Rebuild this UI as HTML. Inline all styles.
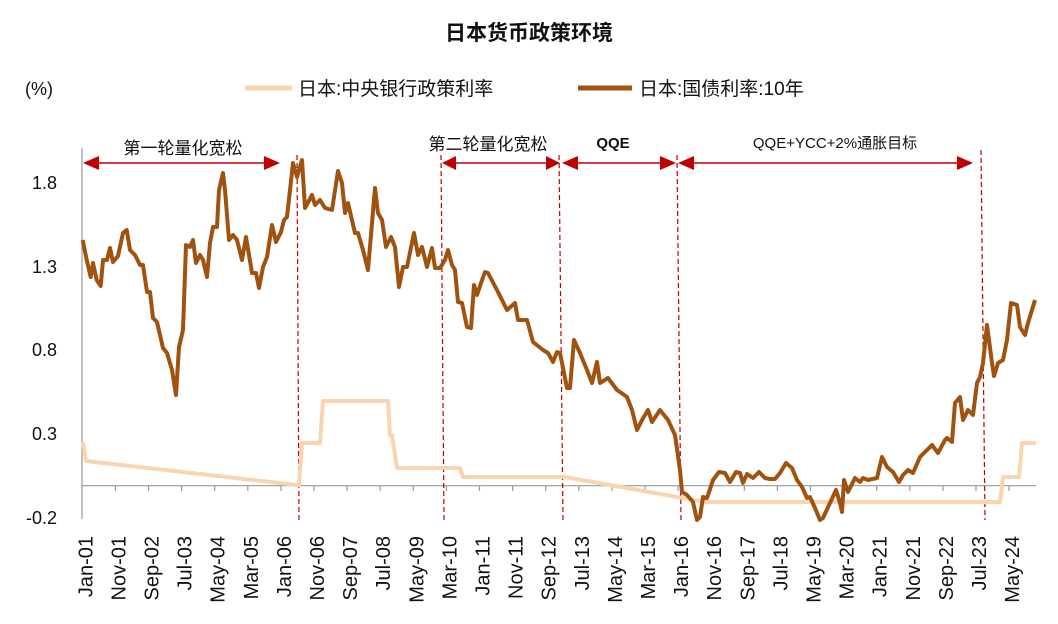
<!DOCTYPE html>
<html><head><meta charset="utf-8"><style>
body{margin:0;background:#fff;}
svg{display:block;font-family:"Liberation Sans","Noto Sans CJK SC",sans-serif;}
</style></head><body>
<svg width="1058" height="624" viewBox="0 0 1058 624" xmlns="http://www.w3.org/2000/svg">
<text x="529" y="40" font-size="21" font-weight="bold" text-anchor="middle" fill="#111">日本货币政策环境</text>
<text x="25" y="95" font-size="18" fill="#111">(%)</text>
<line x1="245" y1="88" x2="292" y2="88" stroke="#FAD4B0" stroke-width="5"/>
<text x="298" y="95" font-size="19" fill="#111">日本:中央银行政策利率</text>
<line x1="578" y1="88" x2="632" y2="88" stroke="#A0520F" stroke-width="5"/>
<text x="639" y="95" font-size="19" fill="#111">日本:国债利率:10年</text>
<g font-size="18" fill="#111" text-anchor="end">
<text x="57" y="189">1.8</text><text x="57" y="273">1.3</text><text x="57" y="356">0.8</text><text x="57" y="440">0.3</text><text x="57" y="524">-0.2</text>
</g>
<line x1="82" y1="148" x2="82" y2="519" stroke="#999" stroke-width="1.2"/>
<line x1="82" y1="485.7" x2="1036" y2="485.7" stroke="#999" stroke-width="1.2"/>
<g stroke="#999" stroke-width="1.2">
<line x1="115.4" y1="485.7" x2="115.4" y2="491"/><line x1="148.5" y1="485.7" x2="148.5" y2="491"/><line x1="181.6" y1="485.7" x2="181.6" y2="491"/><line x1="214.7" y1="485.7" x2="214.7" y2="491"/><line x1="247.8" y1="485.7" x2="247.8" y2="491"/><line x1="280.9" y1="485.7" x2="280.9" y2="491"/><line x1="314" y1="485.7" x2="314" y2="491"/><line x1="347.1" y1="485.7" x2="347.1" y2="491"/><line x1="380.2" y1="485.7" x2="380.2" y2="491"/><line x1="413.3" y1="485.7" x2="413.3" y2="491"/><line x1="446.4" y1="485.7" x2="446.4" y2="491"/><line x1="479.5" y1="485.7" x2="479.5" y2="491"/><line x1="512.6" y1="485.7" x2="512.6" y2="491"/><line x1="545.7" y1="485.7" x2="545.7" y2="491"/><line x1="578.8" y1="485.7" x2="578.8" y2="491"/><line x1="611.9" y1="485.7" x2="611.9" y2="491"/><line x1="645" y1="485.7" x2="645" y2="491"/><line x1="678.1" y1="485.7" x2="678.1" y2="491"/><line x1="711.2" y1="485.7" x2="711.2" y2="491"/><line x1="744.3" y1="485.7" x2="744.3" y2="491"/><line x1="777.4" y1="485.7" x2="777.4" y2="491"/><line x1="810.5" y1="485.7" x2="810.5" y2="491"/><line x1="843.6" y1="485.7" x2="843.6" y2="491"/><line x1="876.7" y1="485.7" x2="876.7" y2="491"/><line x1="909.8" y1="485.7" x2="909.8" y2="491"/><line x1="942.9" y1="485.7" x2="942.9" y2="491"/><line x1="976" y1="485.7" x2="976" y2="491"/><line x1="1009.1" y1="485.7" x2="1009.1" y2="491"/>
</g>
<g font-size="20" fill="#111" text-anchor="end">
<text transform="translate(92.3,536) rotate(-90)">Jan-01</text>
<text transform="translate(125.4,536) rotate(-90)">Nov-01</text>
<text transform="translate(158.5,536) rotate(-90)">Sep-02</text>
<text transform="translate(191.6,536) rotate(-90)">Jul-03</text>
<text transform="translate(224.7,536) rotate(-90)">May-04</text>
<text transform="translate(257.8,536) rotate(-90)">Mar-05</text>
<text transform="translate(290.9,536) rotate(-90)">Jan-06</text>
<text transform="translate(324,536) rotate(-90)">Nov-06</text>
<text transform="translate(357.1,536) rotate(-90)">Sep-07</text>
<text transform="translate(390.2,536) rotate(-90)">Jul-08</text>
<text transform="translate(423.3,536) rotate(-90)">May-09</text>
<text transform="translate(456.4,536) rotate(-90)">Mar-10</text>
<text transform="translate(489.5,536) rotate(-90)">Jan-11</text>
<text transform="translate(522.6,536) rotate(-90)">Nov-11</text>
<text transform="translate(555.7,536) rotate(-90)">Sep-12</text>
<text transform="translate(588.8,536) rotate(-90)">Jul-13</text>
<text transform="translate(621.9,536) rotate(-90)">May-14</text>
<text transform="translate(655,536) rotate(-90)">Mar-15</text>
<text transform="translate(688.1,536) rotate(-90)">Jan-16</text>
<text transform="translate(721.2,536) rotate(-90)">Nov-16</text>
<text transform="translate(754.3,536) rotate(-90)">Sep-17</text>
<text transform="translate(787.4,536) rotate(-90)">Jul-18</text>
<text transform="translate(820.5,536) rotate(-90)">May-19</text>
<text transform="translate(853.6,536) rotate(-90)">Mar-20</text>
<text transform="translate(886.7,536) rotate(-90)">Jan-21</text>
<text transform="translate(919.8,536) rotate(-90)">Nov-21</text>
<text transform="translate(952.9,536) rotate(-90)">Sep-22</text>
<text transform="translate(986,536) rotate(-90)">Jul-23</text>
<text transform="translate(1019.1,536) rotate(-90)">May-24</text>
</g>
<g stroke="#C00000" stroke-width="1.2" stroke-dasharray="5,3">
<line x1="297" y1="155" x2="299" y2="520"/>
<line x1="441" y1="155" x2="444" y2="520"/>
<line x1="559" y1="155" x2="563" y2="520"/>
<line x1="677" y1="155" x2="681" y2="520"/>
<line x1="981" y1="150" x2="985" y2="520"/>
</g>
<g fill="#C00000" stroke="#C00000" stroke-width="1.5">
<line x1="90" y1="163" x2="273" y2="163"/>
<polygon points="83,163 99,156 99,170" stroke="none"/><polygon points="280,163 264,156 264,170" stroke="none"/>
<line x1="449" y1="163" x2="553" y2="163"/>
<polygon points="442,163 456,156 456,170" stroke="none"/><polygon points="560,163 546,156 546,170" stroke="none"/>
<line x1="569" y1="163" x2="669" y2="163"/>
<polygon points="562,163 578,156 578,170" stroke="none"/><polygon points="676,163 660,156 660,170" stroke="none"/>
<line x1="685" y1="163" x2="966" y2="163"/>
<polygon points="678,163 694,156 694,170" stroke="none"/><polygon points="973,163 957,156 957,170" stroke="none"/>
</g>
<g font-size="17" fill="#111" text-anchor="middle">
<text x="183" y="154">第一轮量化宽松</text>
<text x="488" y="150">第二轮量化宽松</text>
<text x="613" y="148" font-weight="bold" font-size="15">QQE</text>
<text x="835" y="148" font-size="15">QQE+YCC+2%通胀目标</text>
</g>
<polyline fill="none" stroke="#FAD4B0" stroke-width="4" stroke-linejoin="round" points="83,442 86,461 297,485 299,485 302,443 320,443 323,401 388,401 390,435 392,435 397,468 460,468 463,477 565,477 705,502 1000,502 1003,477 1019,477 1022,443 1036,443"/>
<polyline fill="none" stroke="#A0520F" stroke-width="4" stroke-linejoin="round" points="82.7,240 86.7,260 90.7,277 93,263 96.7,280 100.7,286 103,260 107,260 110,248 113,262 118,256 123,233 126.7,230 130,250 135,255 140,265 143,265 147,292 150,292 153,318 157,322 163,348 167,353 172,370 176,395 179,347 183,330 186,245 190,247 193,240 196,263 200,255 203,260 207,277 210,243 213,227 217,227 219,190 223,173 225,190 229,240 233,235 237,240 242,260 246,237 252,273 256,273 259,288 263,267 267,257 272,225 276,242 281,232 284,220 287,217 293,163 297,177 302,160 305,208 312,195 315,205 320,200 325,208 332,210 338,171 342,183 345,213 348,203 355,233 358,233 363,250 368,270 375,188 378,213 382,220 386,247 391,237 395,247 399,287 403,267 407,267 414,233 418,255 422,247 427,267 432,248 435,268 440,268 445,260 448,250 452,265 455,270 458,302 462,303 467,327 471,328 474,285 477,295 481,283 485,272 488,273 497,290 507,310 515,303 518,320 527,320 533,342 543,350 548,353 553,362 557,352 560,353 567,388 570,388 574,340 580,353 587,370 592,383 597,362 600,383 608,378 617,390 627,397 632,410 637,430 642,420 648,410 652,422 660,410 668,420 675,435 680,470 682,492 687,495 693,502 697,520 700,517 703,497 707,498 713,480 719,472 725,473 730,482 736,472 740,473 743,483 747,474 753,478 759,472 765,478 770,479 775,479 780,473 786,463 792,468 797,480 802,487 807,498 810,497 815,508 820,520 823,518 830,503 836,490 840,503 842,512 844,480 848,492 855,478 860,482 863,478 868,480 877,478 882,457 887,467 893,472 899,482 903,475 908,470 913,473 920,457 927,450 932,445 938,453 945,440 947,438 952,442 955,403 960,397 963,420 968,410 973,415 977,383 980,377 983,363 987,325 992,363 994,376 998,363 1003,360 1007,340 1011,303 1017,305 1020,327 1025,335 1028,323 1035,300"/>
</svg>
</body></html>
